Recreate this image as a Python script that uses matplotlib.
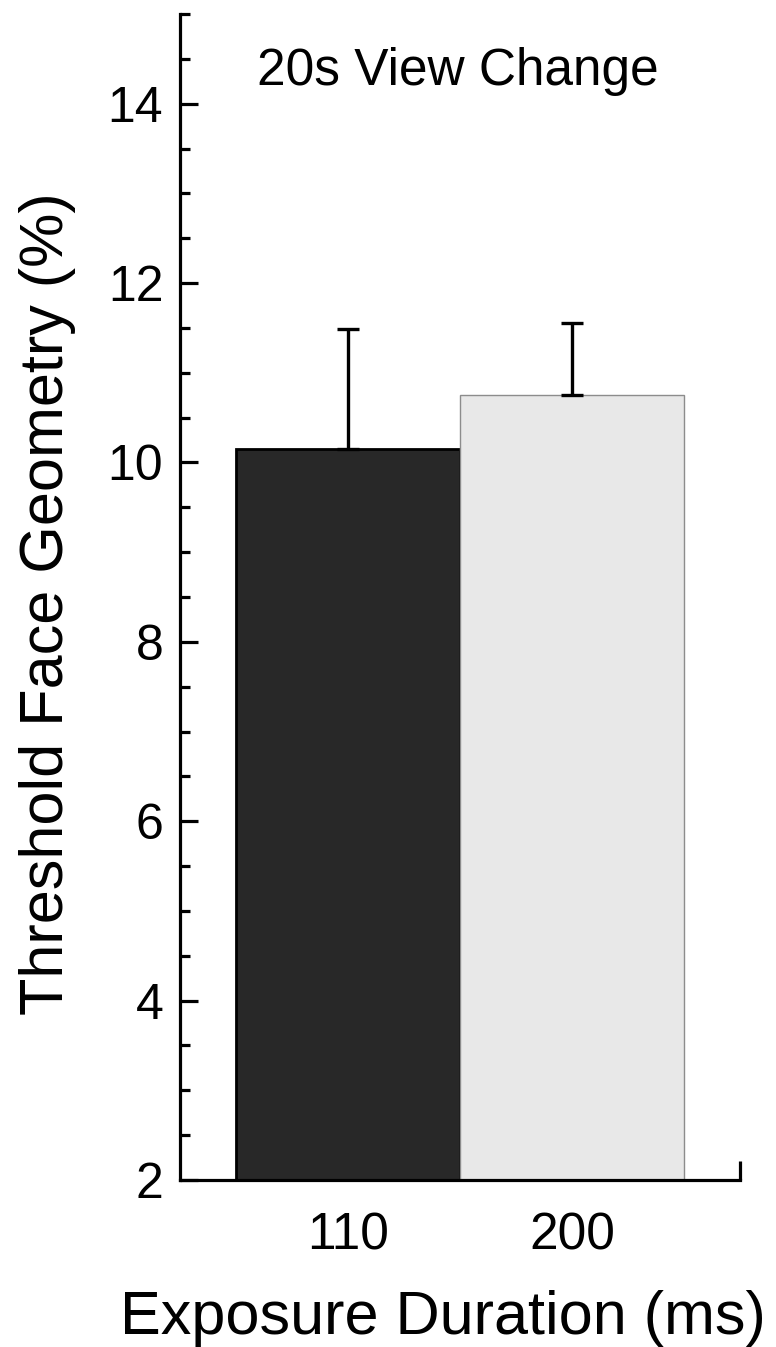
import numpy as np
import matplotlib
matplotlib.use('Agg')
from matplotlib import pyplot as plt
from matplotlib.ticker import MultipleLocator

# data
durations = ['110', '200']
thresholds = [10.15, 10.75]
err_upper = [1.34, 0.81]
bar_colors = ['#282828', '#e8e8e8']
edge_colors = ['#000000', '#8c8c8c']

plt.rcParams['font.family'] = ['Liberation Sans', 'DejaVu Sans']

fig = plt.figure(figsize=(7.76, 13.47), dpi=100)
ax = fig.add_axes([180 / 776, 1 - 1180 / 1347, 560 / 776, 1166 / 1347])

x = np.arange(1, len(durations) + 1)
ax.bar(x, thresholds, width=1.0, color=bar_colors, edgecolor=edge_colors,
       linewidth=[2.0, 1.0], zorder=2)
ax.errorbar(x, thresholds, yerr=[np.zeros(len(x)), err_upper], fmt='none',
            ecolor='black', elinewidth=2.4, capsize=8, capthick=2.4, zorder=3)

ax.set_xlim(0.25, 2.75)
ax.set_ylim(2, 15)

# spines: only left and bottom
for side in ['top', 'right']:
    ax.spines[side].set_visible(False)
for side in ['left', 'bottom']:
    ax.spines[side].set_linewidth(2.3)

ax.yaxis.set_major_locator(MultipleLocator(2))
ax.yaxis.set_minor_locator(MultipleLocator(0.5))
ax.tick_params(axis='y', which='major', direction='in', length=13, width=2.3,
               labelsize=36, pad=12)
ax.tick_params(axis='y', which='minor', direction='in', length=7, width=2.3)

ax.set_xticks(x)
ax.set_xticklabels(durations)
ax.set_xticks([2.75], minor=True)
ax.tick_params(axis='x', which='major', length=0, labelsize=37, pad=23)
ax.tick_params(axis='x', which='minor', direction='in', length=14, width=2.3)

ax.set_xlabel('Exposure Duration (ms)', fontsize=44)
ax.xaxis.set_label_coords(0.47, -0.094)
ax.set_ylabel('Threshold Face Geometry (%)', fontsize=44)
ax.yaxis.set_label_coords(-0.186, 0.494)

ax.text(0.496, 0.939, '20s View Change', transform=ax.transAxes,
        ha='center', va='baseline', fontsize=37)

fig.savefig('out.png', dpi=100)
